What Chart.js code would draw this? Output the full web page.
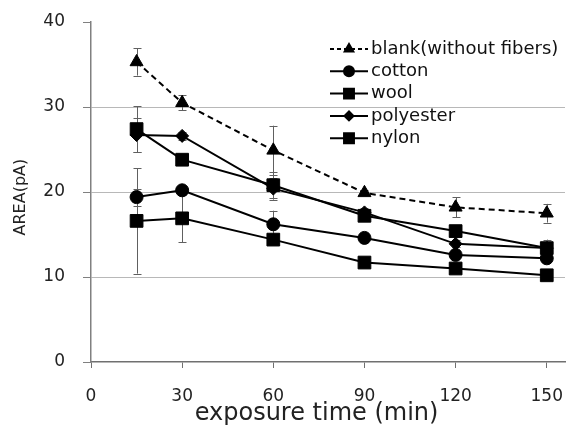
<!DOCTYPE html>
<html>
<head>
<meta charset="utf-8">
<script src="https://cdn.jsdelivr.net/npm/chart.js@4/dist/chart.umd.min.js"></script>
<style>
html,body{margin:0;padding:0;background:#fff;}
#c{display:block;}
</style>
</head>
<body>
<canvas id="c" width="566" height="428"></canvas>
<script>
// ---- data ----
const times = [15, 30, 60, 90, 120, 150];
const seriesNames = ['blank(without fibers)', 'cotton', 'wool', 'polyester', 'nylon'];
const blankVals = [35.3, 30.5, 24.9, 19.9, 18.2, 17.5];
const blankErr  = [1.6, 0.9, 2.9, 0.3, 1.2, 1.1];
const cottonVals = [19.4, 20.2, 16.2, 14.6, 12.6, 12.2];
const cottonErr  = [1.0, 0.3, 1.6, 0.3, 0.3, 0.3];
const woolVals = [27.4, 23.8, 20.8, 17.2, 15.4, 13.4];
const woolErr  = [2.7, 0.4, 1.5, 0.5, 0.4, 1.0];
const polyVals = [26.7, 26.6, 20.4, 17.6, 13.9, 13.4];
const polyErr  = [2.0, 0.5, 1.3, 0.5, 0.4, 0.4];
const nylonVals = [16.6, 16.9, 14.4, 11.7, 11.0, 10.2];
const nylonErr  = [6.2, 2.8, 0.5, 0.3, 0.3, 0.3];
const xTicks = [0, 30, 60, 90, 120, 150];
const yTicks = [0, 10, 20, 30, 40];

const FONT = "'DejaVu Sans', Verdana, sans-serif";

const styles = [
  {style: 'triangle', radius: 7.5, dash: [6, 4], legR: 5},
  {style: 'circle', radius: 6.5, dash: [], legR: 5},
  {style: 'rect', radius: 9, dash: [], legR: 7},
  {style: 'rectRot', radius: 6.5, dash: [], legR: 4.5},
  {style: 'rect', radius: 9, dash: [], legR: 7}
];
const vals = [blankVals, cottonVals, woolVals, polyVals, nylonVals];
const errs = [blankErr, cottonErr, woolErr, polyErr, nylonErr];

const datasets = vals.map((v, k) => ({
  label: seriesNames[k],
  data: v.map((y, i) => ({x: times[i], y: y})),
  errors: errs[k],
  borderColor: '#000',
  backgroundColor: '#000',
  borderWidth: 2,
  borderDash: styles[k].dash,
  pointStyle: styles[k].style,
  pointRadius: styles[k].radius,
  pointBackgroundColor: '#000',
  pointBorderColor: '#000',
  pointBorderWidth: 1,
  tension: 0,
  fill: false,
  clip: false
}));

const errorBars = {
  id: 'errorBars',
  beforeDatasetsDraw(chart) {
    const ctx = chart.ctx;
    const xs = chart.scales.x, ys = chart.scales.y;
    ctx.save();
    ctx.strokeStyle = '#606060';
    ctx.lineWidth = 1;
    chart.data.datasets.forEach(ds => {
      ds.data.forEach((p, i) => {
        const e = ds.errors[i];
        const px = Math.round(xs.getPixelForValue(p.x)) + 0.5;
        const t = ys.getPixelForValue(p.y + e);
        const b = ys.getPixelForValue(p.y - e);
        ctx.beginPath();
        ctx.moveTo(px, t); ctx.lineTo(px, b);
        ctx.moveTo(px - 4, Math.round(t) + 0.5); ctx.lineTo(px + 4, Math.round(t) + 0.5);
        ctx.moveTo(px - 4, Math.round(b) + 0.5); ctx.lineTo(px + 4, Math.round(b) + 0.5);
        ctx.stroke();
      });
    });
    ctx.restore();
  }
};

const legendBox = {
  id: 'legendBox',
  afterDraw(chart) {
    const ctx = chart.ctx;
    const x0 = 330, x1 = 368, tx = 371;
    const y0 = 49, dy = 22.3;
    ctx.save();
    chart.data.datasets.forEach((ds, k) => {
      const y = y0 + k * dy;
      ctx.strokeStyle = '#000';
      ctx.lineWidth = 2;
      ctx.setLineDash(styles[k].dash.length ? [4, 3] : []);
      ctx.beginPath();
      ctx.moveTo(x0, y); ctx.lineTo(x1, y);
      ctx.stroke();
      ctx.setLineDash([]);
      ctx.fillStyle = '#000';
      Chart.helpers.drawPoint(ctx, {pointStyle: styles[k].style, radius: styles[k].legR, borderWidth: 1}, (x0 + x1) / 2, y);
      ctx.fill();
      ctx.fillStyle = '#111';
      ctx.font = "18px " + FONT;
      ctx.textBaseline = 'middle';
      ctx.textAlign = 'left';
      ctx.fillText(ds.label, tx, y);
    });
    ctx.restore();
  }
};

new Chart(document.getElementById('c'), {
  type: 'line',
  data: {datasets: datasets},
  options: {
    responsive: false,
    animation: false,
    devicePixelRatio: 1,
    layout: {autoPadding: false, padding: {top: 22, right: 1, left: 0, bottom: 0}},
    plugins: {legend: {display: false}, tooltip: {enabled: false}},
    scales: {
      x: {
        type: 'linear',
        min: 0, max: 156,
        afterBuildTicks: s => { s.ticks = xTicks.map(v => ({value: v})); },
        afterFit: s => { s.height = 66; s.paddingLeft = 0; s.paddingRight = 0; },
        border: {color: '#707070', width: 1.5},
        grid: {drawOnChartArea: false, drawTicks: true, tickLength: 6, tickColor: '#707070'},
        ticks: {font: {size: 17, family: FONT}, color: '#222', padding: 18, maxRotation: 0},
        title: {display: true, text: 'exposure time (min)   ', font: {size: 24, family: FONT}, color: '#222', padding: {top: 0, bottom: 0}}
      },
      y: {
        min: 0, max: 40,
        afterBuildTicks: s => { s.ticks = yTicks.map(v => ({value: v})); },
        afterFit: s => { s.width = 91; s.paddingTop = 0; s.paddingBottom = 0; },
        border: {color: '#808080', width: 1.5},
        grid: {
          color: c => (c.tick && (c.tick.value === 40 || c.tick.value === 0)) ? 'rgba(0,0,0,0)' : '#b8b8b8',
          lineWidth: 1,
          tickLength: 8,
          tickColor: '#808080'
        },
        ticks: {font: {size: 17, family: FONT}, color: '#222', padding: 18},
        title: {display: true, text: 'AREA(pA)  ', font: {size: 16, family: FONT}, color: '#222', padding: {top: 11, bottom: 0}}
      }
    }
  },
  plugins: [errorBars, legendBox]
});
</script>
</body>
</html>
